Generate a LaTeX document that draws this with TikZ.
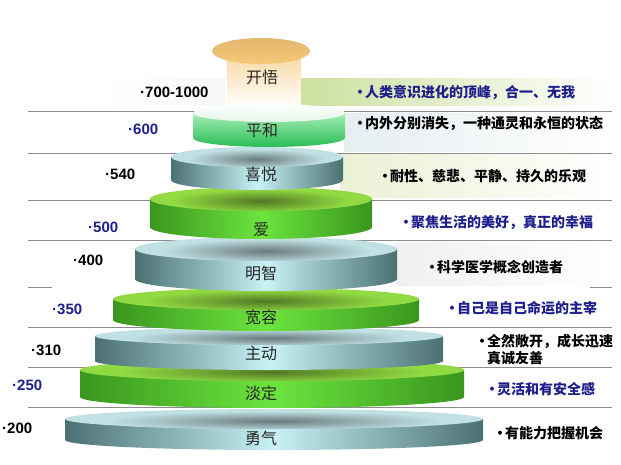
\documentclass[tikz,border=0pt]{standalone}
\usepackage{fontspec}
\setmainfont{Liberation Sans}
\newfontfamily\cjk{Noto Sans CJK SC}
\usepackage{tikz}
\usepackage{xcolor}
\usetikzlibrary{positioning}

\definecolor{deepblue}{RGB}{30,30,140}
\definecolor{tealdk}{RGB}{74,112,114}
\definecolor{teallt}{RGB}{200,242,246}
\definecolor{tealtop}{RGB}{192,224,228}
\definecolor{greendk}{RGB}{58,150,30}
\definecolor{greenlt}{RGB}{108,228,62}
\definecolor{greentop}{RGB}{146,218,66}
\definecolor{pinglt}{RGB}{168,238,182}
\definecolor{pingdk}{RGB}{40,188,86}
\definecolor{pingtop}{RGB}{226,246,230}
\definecolor{orangetop}{RGB}{246,200,120}
\definecolor{orangeglow}{RGB}{248,214,158}
\definecolor{bandgreen}{RGB}{204,224,158}
\definecolor{bandyel}{RGB}{234,241,212}
\definecolor{bandgrey}{RGB}{230,238,240}

\begin{document}
\begin{tikzpicture}
  [x=1pt,y=-1pt,
   lvl/.style={font=\cjk\fontsize{16}{16}\selectfont,inner sep=0pt,text=black!85},
   num/.style={font=\bfseries\fontsize{15}{15}\selectfont,inner sep=0pt,anchor=west},
   desc/.style={font=\cjk\bfseries\fontsize{14}{17}\selectfont,inner sep=0pt,anchor=west,align=left},
   rule/.style={draw=black!45,line width=0.9pt}]
  \path[use as bounding box,fill=white] (0,0) rectangle (621,465);

  % pale bands behind the texts
  \shade[left color=white,right color=black!3] (105,79) rectangle (225,106);
  \shade[left color=bandgreen,right color=white] (300,79) rectangle (612,106);
  \shade[left color=bandgrey,right color=white] (344,114) rectangle (612,152);
  \shade[left color=bandyel,right color=white] (340,155) rectangle (612,198);
  \shade[left color=black!6,right color=white] (395,242) rectangle (612,285);

  \foreach \y in {111,153,200,240,327,367,407}
    \draw[rule] (28,\y) -- (612,\y);
  \draw[rule] (28,287) -- (52,287) (590,287) -- (612,287);

  % discs, bottom to top
  \foreach \cx/\hw/\yt/\h/\ry/\dk/\lt/\tp/\nm/\lbl/\ly in {
      274/209/419/21/10/tealdk/teallt/tealtop/yq/勇气/438,
      272/192/370/27/11/greendk/greenlt/greentop/dd/淡定/393,
      269/174/336/25/9/tealdk/teallt/tealtop/zd/主动/353,
      266/153/299/21/11/greendk/greenlt/greentop/kr/宽容/317,
      266/131/249/30/12/tealdk/teallt/tealtop/mz/明智/273,
      261/111/199/28/12/greendk/greenlt/greentop/ai/爱/229,
      257/86/157/23/10/tealdk/teallt/tealtop/xy/喜悦/174}
  {
    \shade[left color=\dk,right color=\dk,middle color=\lt]
      (\cx-\hw,\yt) -- (\cx-\hw,\yt+\h)
      arc[start angle=180,end angle=360,x radius=\hw pt,y radius=\ry pt]
      -- (\cx+\hw,\yt) -- cycle;
    \fill[\tp] (\cx,\yt) ellipse[x radius=\hw pt,y radius=\ry pt];
    \begin{scope}
      \clip (\cx,\yt) ellipse[x radius=\hw pt,y radius=\ry pt];
      \shade[inner color=\tp!55!black,outer color=\tp]
        (\cx,\yt+2) ellipse[x radius=0.8*\hw pt,y radius=\ry pt];
    \end{scope}
    \node[lvl] (\nm) at (261,\ly) {\lbl};
  }

  % top two levels
  \shade[top color=orangeglow,bottom color=white] (227,51) rectangle (301,108);
  \shade[top color=pinglt,bottom color=pingdk]
    (193,113) -- (193,138)
    arc[start angle=180,end angle=360,x radius=76pt,y radius=9pt]
    -- (345,113) -- cycle;
  \shade[top color=white,bottom color=pingtop] (269,113) ellipse[x radius=76pt,y radius=9pt];
  \shade[top color=orangetop!92!black,bottom color=orangetop] (261,51) ellipse[x radius=49pt,y radius=13pt];
  \node[lvl] (ph) at (262,130) {平和};
  \node[lvl] (kw) at (262,77) {开悟};

  \foreach \n/\x/\y/\c/\v in {1/140/92/black/700-1000,2/128/129/deepblue/600,
      3/105/174/black/540,4/88/227/deepblue/500,5/73/260/black/400,
      6/52/309/deepblue/350,7/31/350/black/310,8/12/385/deepblue/250,9/2/428/black/200}
    \node[num,text=\c] (v\n) at (\x,\y) {·\v};

  \foreach \n/\x/\y/\c/\t in {1/353/93/deepblue/人类意识进化的顶峰，合一、无我,
      2/353/124/black/内外分别消失，一种通灵和永恒的状态,
      3/378/176/black/耐性、慈悲、平静、持久的乐观,
      4/399/223/deepblue/聚焦生活的美好，真正的幸福,
      5/425/267/black/科学医学概念创造者,
      6/445/308/deepblue/自己是自己命运的主宰,
      7/475/350/black/{全然敞开，成长迅速\\\hspace*{12pt}真诚友善},
      8/485/389/deepblue/灵活和有安全感,
      9/493/433/black/有能力把握机会}
    \node[desc,text=\c] (t\n) at (\x,\y) {\makebox[12pt][l]{·}\t};
\end{tikzpicture}
\end{document}
